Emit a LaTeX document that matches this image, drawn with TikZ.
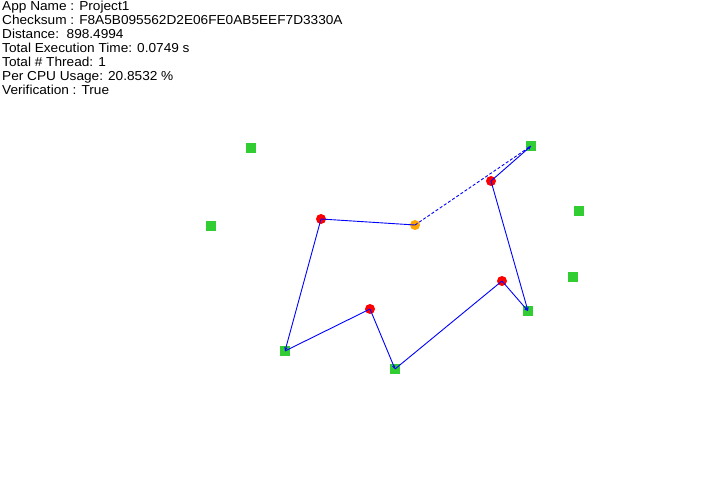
\documentclass[tikz,border=0pt]{standalone}
\usepackage{fontspec}
\setmainfont{Liberation Sans}
\newfontfamily\infofont[FakeStretch=1.05]{Liberation Sans}
\usetikzlibrary{arrows.meta}
\definecolor{sqgreen}{RGB}{50,205,50}
\definecolor{dotred}{RGB}{255,0,0}
\definecolor{dotorange}{RGB}{255,165,0}
\definecolor{lineblue}{RGB}{0,0,255}
\tikzset{
  sq/.style={rectangle,fill=sqgreen,minimum size=10pt,inner sep=0pt,draw=none},
  rdot/.style={circle,fill=dotred,minimum size=10pt,inner sep=0pt,draw=none},
  odot/.style={circle,fill=dotorange,minimum size=10pt,inner sep=0pt,draw=none},
  edge/.style={lineblue,line width=0.9pt},
  tipedge/.style={edge,-{Stealth[length=4pt,width=3.5pt]}},
  info/.style={anchor=base west,inner sep=0pt,font=\infofont\fontsize{13}{14}\selectfont}
}
\begin{document}
\begin{tikzpicture}[x=1pt,y=-1pt]
\useasboundingbox (0,0) rectangle (726,500);
\node[info] (t1) at (2,11) {App Name : Project1};
\node[info] (t2) at (2,25) {Checksum : F8A5B095562D2E06FE0AB5EEF7D3330A};
\node[info] (t3) at (2,39) {Distance:\ \ 898.4994};
\node[info] (t4) at (2,53) {Total Execution Time: 0.0749 s};
\node[info] (t5) at (2,67) {Total \# Thread: 1};
\node[info] (t6) at (2,81) {Per CPU Usage: 20.8532 \%};
\node[info] (t7) at (2,95) {Verification : True};
% squares
\node[sq] (s1) at (251,148) {};
\node[sq] (s2) at (211,226) {};
\node[sq] (s3) at (531,146) {};
\node[sq] (s4) at (579,211) {};
\node[sq] (s5) at (573,277) {};
\node[sq] (s6) at (528,311) {};
\node[sq] (s7) at (285,351) {};
\node[sq] (s8) at (395,369) {};
% circles
\node[rdot] (r1) at (321,219) {};
\node[rdot] (r2) at (491,181) {};
\node[rdot] (r3) at (370,309) {};
\node[rdot] (r4) at (502,281) {};
\node[odot] (o1) at (415,225) {};
% edges
\draw[edge] (o1.center) -- (r1.center);
\draw[tipedge] (r1.center) -- (s7.center);
\draw[edge] (s7.center) -- (r3.center);
\draw[tipedge] (r3.center) -- (s8.center);
\draw[edge] (s8.center) -- (r4.center);
\draw[tipedge] (r4.center) -- (s6.center);
\draw[tipedge] (r2.center) -- (s6.center);
\draw[tipedge] (r2.center) -- (s3.center);
\draw[edge,dashed,dash pattern=on 3pt off 2pt] (o1.center) -- (s3.center);
\end{tikzpicture}
\end{document}
